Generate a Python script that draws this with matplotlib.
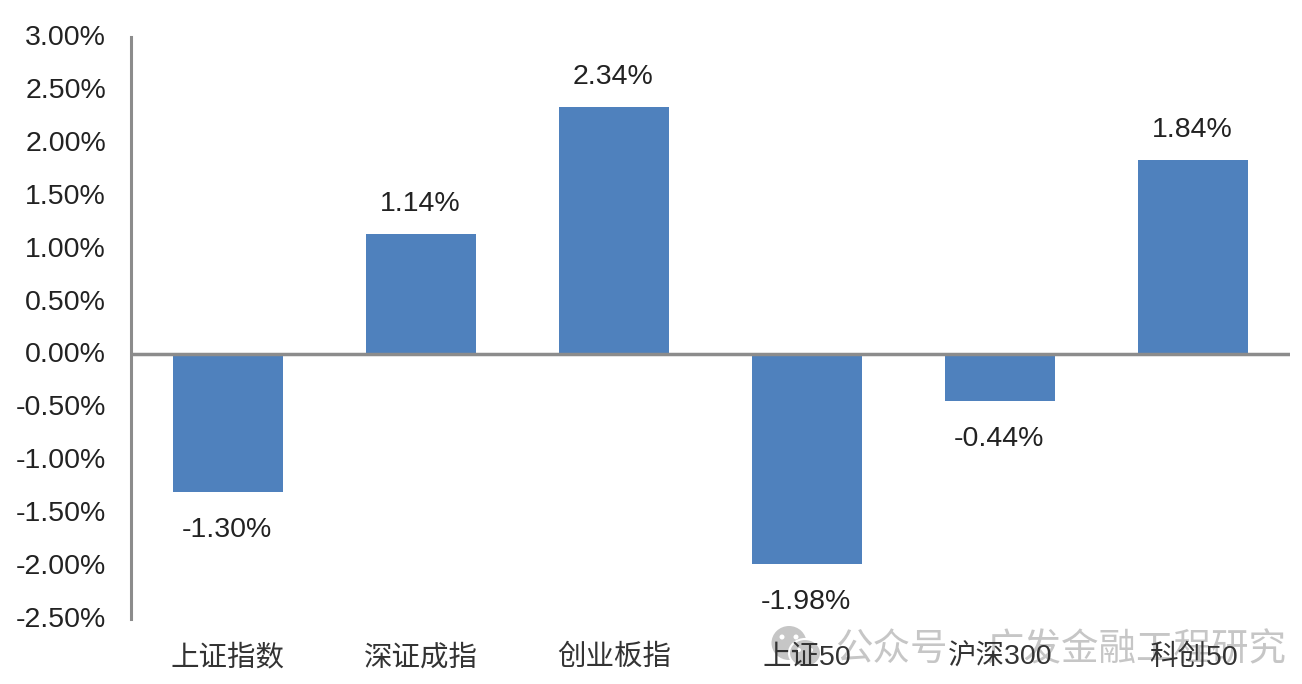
import matplotlib.pyplot as plt
from matplotlib.patches import Ellipse
from matplotlib.ticker import FuncFormatter
from matplotlib.transforms import Affine2D

plt.rcParams['font.family'] = ['Liberation Sans', 'Noto Sans CJK SC', 'DejaVu Sans']

categories = ['上证指数', '深证成指', '创业板指', '上证50', '沪深300', '科创50']
values = [-1.30, 1.14, 2.34, -1.98, -0.44, 1.84]
yticks = [-2.5, -2.0, -1.5, -1.0, -0.5, 0, 0.5, 1.0, 1.5, 2.0, 2.5, 3.0]

W, H = 1302, 684
fig = plt.figure(figsize=(W / 100, H / 100), dpi=100)
ax = fig.add_axes([131 / W, 1 - 619 / H, (1290 - 131) / W, (619 - 37) / H])
ax.patch.set_visible(False)

ax.bar(range(6), values, width=0.57, color='#4f81bd', zorder=2)
ax.set_xlim(-0.5, 5.5)
ax.set_ylim(-2.5, 3.0)
ax.set_yticks(yticks)
ax.yaxis.set_major_formatter(FuncFormatter(lambda v, p: f'{v:.2f}%'))
ax.tick_params(axis='y', length=0, pad=18, labelsize=20.5, labelcolor='#222222')
for lab in ax.get_yticklabels():
    lab.set_transform(lab.get_transform() + Affine2D().translate(0, 2))
ax.set_xticks([])

for s in ['top', 'right', 'bottom']:
    ax.spines[s].set_visible(False)
ax.spines['left'].set_color('#8c8c8c')
ax.spines['left'].set_linewidth(2.2)
ax.axhline(0, color='#8c8c8c', lw=2.5, zorder=3)

for i, v in enumerate(values):
    off = 30 if v > 0 else -38
    ax.annotate(f'{v:.2f}%', (i, v), xytext=(-1, off), textcoords='offset pixels',
                ha='center', va='center', fontsize=20.5, color='#222222')
    ax.annotate(categories[i], (i, 0), xycoords=('data', 'axes fraction'),
                xytext=(0, -39), textcoords='offset pixels', ha='center', va='center',
                fontsize=20.5, color='#333333')

# watermark sits behind the labels
def px_ellipse(cx, cy, w, h, **kw):
    fig.add_artist(Ellipse((cx / W, 1 - cy / H), w / W, h / H, transform=fig.transFigure,
                           zorder=-1, **kw))

px_ellipse(789, 643, 35, 34, fc='#c6c6c6', ec='none')
px_ellipse(805, 653, 32, 28, fc='#c6c6c6', ec='white', lw=1.5)
for ex, ey, es in [(782, 637, 5), (796, 637, 5), (799, 650, 4), (811, 650, 4)]:
    px_ellipse(ex, ey, es, es, fc='white', ec='none')
fig.text(835 / W, 1 - 650 / H, '公众号', fontsize=27, color='#c6c6c6',
         ha='left', va='center', zorder=-1)
fig.text(987 / W, 1 - 650 / H, '广发金融工程研究', fontsize=27, color='#c6c6c6',
         ha='left', va='center', zorder=-1)

fig.savefig('out.png', dpi=100)
